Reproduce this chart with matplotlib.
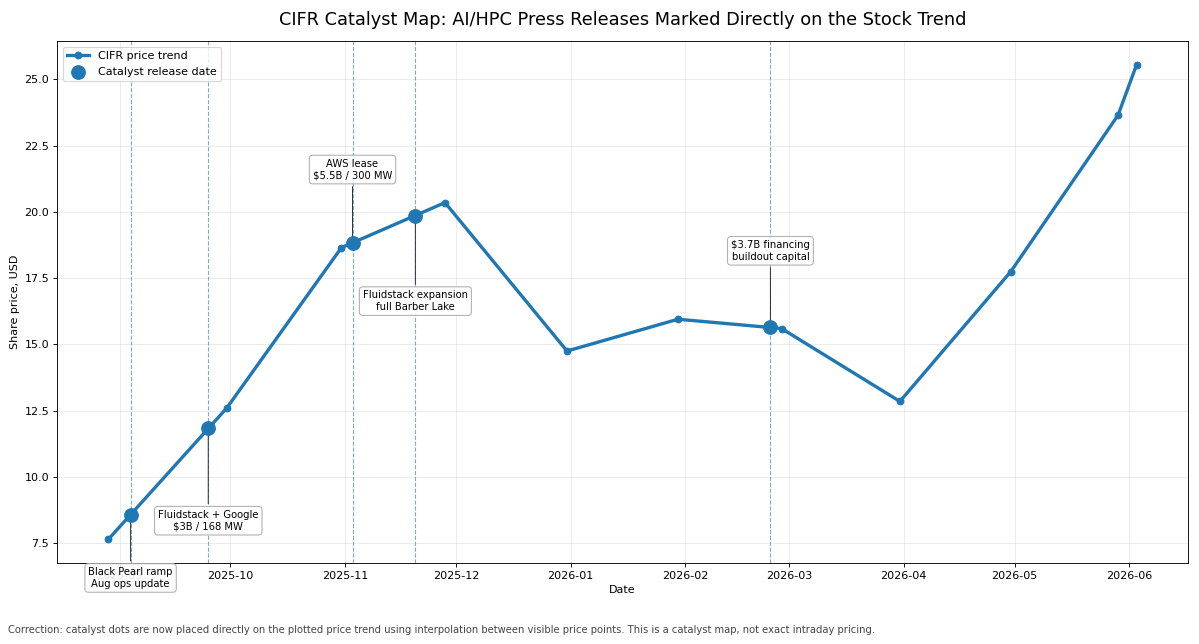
import numpy as np
import pandas as pd
import matplotlib
matplotlib.use("Agg")
import matplotlib.pyplot as plt

# Price trend points
price_dates = ["2025-08-29", "2025-09-30", "2025-10-31", "2025-11-28", "2025-12-31",
               "2026-01-30", "2026-02-27", "2026-03-31", "2026-04-30", "2026-05-29",
               "2026-06-03"]
price_values = [7.65, 12.6, 18.65, 20.35, 14.75, 15.95, 15.6, 12.85, 17.75, 23.65, 25.55]

# Catalyst releases (dots sit on the trend line)
catalyst_dates = ["2025-09-04", "2025-09-25", "2025-11-03", "2025-11-20", "2026-02-24"]
catalyst_values = [8.58, 11.83, 18.83, 19.86, 15.64]
catalyst_labels = ["Black Pearl ramp\nAug ops update",
                   "Fluidstack + Google\n$3B / 168 MW",
                   "AWS lease\n$5.5B / 300 MW",
                   "Fluidstack expansion\nfull Barber Lake",
                   "$3.7B financing\nbuildout capital"]
label_offsets = [(0, -57), (0, -83), (0, 66), (0, -77), (0, 69)]

price_dates = pd.to_datetime(price_dates)
catalyst_dates = pd.to_datetime(catalyst_dates)

fig = plt.figure(figsize=(1199 / 80, 644 / 80), dpi=80)
ax = fig.add_axes([57 / 1199, 1 - 563 / 644, (1188 - 57) / 1199, (563 - 41) / 644])

blue = "#1f77b4"
ax.plot(price_dates, price_values, color=blue, lw=3, marker="o", markersize=6,
        label="CIFR price trend", zorder=3)
ax.scatter(catalyst_dates, catalyst_values, s=150, color=blue, zorder=4,
           label="Catalyst release date")

for d in catalyst_dates:
    ax.axvline(d, color=blue, ls="--", lw=1, alpha=0.6, zorder=1)

for d, v, txt, off in zip(catalyst_dates, catalyst_values, catalyst_labels, label_offsets):
    ax.annotate(txt, xy=(d, v), xytext=off, textcoords="offset points",
                ha="center", va="center", fontsize=9, annotation_clip=False,
                bbox=dict(boxstyle="round,pad=0.35", fc="white", ec="#aaaaaa", alpha=0.9),
                arrowprops=dict(arrowstyle="-", color="#333333", lw=0.9))

ax.grid(True, color="#dddddd", alpha=0.6, lw=0.8)
ax.set_axisbelow(True)
ax.set_title("CIFR Catalyst Map: AI/HPC Press Releases Marked Directly on the Stock Trend",
             fontsize=16, pad=14)
ax.set_xlabel("Date")
ax.set_ylabel("Share price, USD")
ax.legend(loc="upper left")

fig.text(0.007, 1 - 630 / 644, "Correction: catalyst dots are now placed directly on the plotted price trend "
         "using interpolation between visible price points. This is a catalyst map, not exact intraday pricing.",
         fontsize=9, color="#444444", va="center")

fig.savefig("out.png", dpi=80)
